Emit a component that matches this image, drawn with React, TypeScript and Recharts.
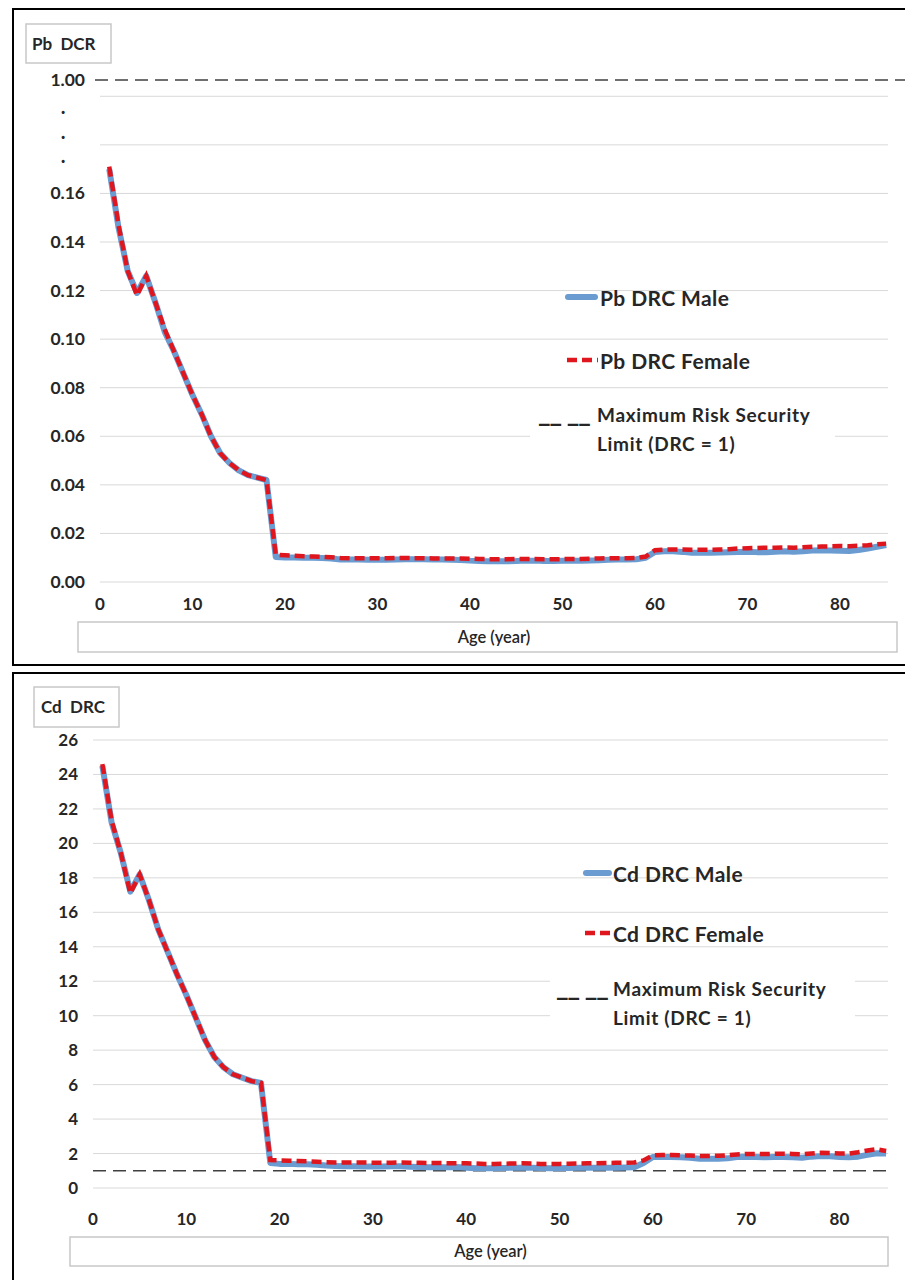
import { LineChart, Line, XAxis, YAxis, CartesianGrid, ReferenceLine, Legend } from "recharts";

// ages in years
const AGES = [
  1, 2, 3, 4, 5, 6, 7, 8, 9, 10, 11, 12, 13, 14, 15, 16, 17, 18, 19, 20,
  21, 22, 23, 24, 25, 26, 27, 28, 29, 30, 31, 32, 33, 34, 35, 36, 37, 38, 39, 40,
  41, 42, 43, 44, 45, 46, 47, 48, 49, 50, 51, 52, 53, 54, 55, 56, 57, 58, 59, 60,
  61, 62, 63, 64, 65, 66, 67, 68, 69, 70, 71, 72, 73, 74, 75, 76, 77, 78, 79, 80,
  81, 82, 83, 84, 85,
];

const PB_MALE = [
  0.170, 0.146, 0.128, 0.119, 0.126, 0.115, 0.103, 0.095, 0.086, 0.077,
  0.069, 0.060, 0.053, 0.049, 0.046, 0.044, 0.043, 0.042, 0.0103, 0.0101,
  0.0101, 0.0100, 0.0100, 0.0099, 0.0097, 0.0093, 0.0093, 0.0093, 0.0092, 0.0092,
  0.0092, 0.0093, 0.0094, 0.0094, 0.0094, 0.0093, 0.0093, 0.0092, 0.0091, 0.0088,
  0.0086, 0.0085, 0.0085, 0.0085, 0.0086, 0.0088, 0.0088, 0.0086, 0.0086, 0.0087,
  0.0087, 0.0088, 0.0089, 0.0090, 0.0092, 0.0093, 0.0093, 0.0094, 0.0100, 0.0124,
  0.0127, 0.0127, 0.0124, 0.0120, 0.0120, 0.0120, 0.0121, 0.0122, 0.0124, 0.0125,
  0.0123, 0.0122, 0.0125, 0.0127, 0.0125, 0.0127, 0.0130, 0.0131, 0.0130, 0.0129,
  0.0128, 0.0132, 0.0138, 0.0145, 0.0152,
];

const PB_FEMALE = [
  0.171, 0.147, 0.128, 0.118, 0.126, 0.115, 0.104, 0.095, 0.086, 0.077,
  0.069, 0.060, 0.053, 0.049, 0.046, 0.044, 0.043, 0.042, 0.0112, 0.0110,
  0.0108, 0.0106, 0.0105, 0.0104, 0.0102, 0.0099, 0.0098, 0.0098, 0.0098, 0.0098,
  0.0098, 0.0099, 0.0099, 0.0098, 0.0098, 0.0097, 0.0097, 0.0097, 0.0097, 0.0096,
  0.0095, 0.0094, 0.0094, 0.0094, 0.0095, 0.0095, 0.0095, 0.0094, 0.0094, 0.0094,
  0.0095, 0.0095, 0.0096, 0.0097, 0.0098, 0.0098, 0.0098, 0.0099, 0.0105, 0.0131,
  0.0133, 0.0134, 0.0134, 0.0133, 0.0133, 0.0133, 0.0134, 0.0135, 0.0138, 0.0139,
  0.0140, 0.0141, 0.0141, 0.0142, 0.0141, 0.0143, 0.0145, 0.0146, 0.0147, 0.0148,
  0.0147, 0.0149, 0.0151, 0.0155, 0.0158,
];

const CD_MALE = [
  24.5, 21.2, 19.4, 17.2, 18.2, 16.7, 15.0, 13.7, 12.4, 11.2,
  9.9, 8.6, 7.6, 7.0, 6.6, 6.4, 6.2, 6.1, 1.45, 1.40,
  1.40, 1.38, 1.38, 1.35, 1.30, 1.28, 1.26, 1.26, 1.25, 1.25,
  1.25, 1.26, 1.26, 1.24, 1.22, 1.20, 1.20, 1.20, 1.22, 1.18,
  1.15, 1.15, 1.15, 1.16, 1.18, 1.18, 1.18, 1.16, 1.15, 1.15,
  1.16, 1.17, 1.17, 1.18, 1.18, 1.18, 1.19, 1.20, 1.45, 1.80,
  1.80, 1.80, 1.78, 1.75, 1.70, 1.70, 1.70, 1.72, 1.80, 1.82,
  1.80, 1.78, 1.80, 1.80, 1.78, 1.76, 1.82, 1.85, 1.84, 1.80,
  1.78, 1.82, 1.92, 2.02, 2.00,
];

const CD_FEMALE = [
  24.6, 21.3, 19.4, 17.1, 18.2, 16.7, 15.0, 13.7, 12.4, 11.2,
  9.9, 8.6, 7.6, 7.0, 6.6, 6.4, 6.2, 6.1, 1.62, 1.60,
  1.58, 1.56, 1.55, 1.52, 1.50, 1.48, 1.48, 1.48, 1.48, 1.47,
  1.47, 1.47, 1.48, 1.47, 1.46, 1.45, 1.45, 1.44, 1.44, 1.43,
  1.42, 1.40, 1.40, 1.41, 1.42, 1.43, 1.42, 1.40, 1.40, 1.40,
  1.41, 1.42, 1.43, 1.44, 1.45, 1.46, 1.47, 1.48, 1.60, 1.90,
  1.92, 1.92, 1.90, 1.88, 1.86, 1.86, 1.87, 1.90, 1.95, 1.98,
  1.98, 1.97, 1.98, 1.99, 1.98, 1.96, 2.00, 2.04, 2.03, 2.00,
  2.00, 2.08, 2.18, 2.25, 2.15,
];

const X_TICKS = [0, 10, 20, 30, 40, 50, 60, 70, 80];
const PB_TICKS = [0, 0.02, 0.04, 0.06, 0.08, 0.1, 0.12, 0.14, 0.16];
const PB_GRID = [0, 0.02, 0.04, 0.06, 0.08, 0.1, 0.12, 0.14, 0.16, 0.18, 0.2];
// the Pb axis is broken above 0.20: three dots, then the DRC = 1 line
const PB_BREAK_DOTS = [0.175, 0.185, 0.195];
const PB_AXIS_BREAK = 0.2067;
const CD_TICKS = [0, 2, 4, 6, 8, 10, 12, 14, 16, 18, 20, 22, 24, 26];
const DRC_LIMIT = 1;

const pbData = AGES.map((age, i) => ({ age, male: PB_MALE[i], female: PB_FEMALE[i] }));
const cdData = AGES.map((age, i) => ({ age, male: CD_MALE[i], female: CD_FEMALE[i] }));

const BLUE = "#6A9BD1";
const RED = "#E0161E";
const LIMIT_GRAY = "#404040";
const GRID = "#D9D9D9";
const TEXT = "#262626";
const FONT = "Lato, 'Noto Sans', sans-serif";

const PbTick = (props: any) => {
  const { x, y, payload } = props;
  const v = payload.value;
  const common = { y, dy: 6, fontSize: 17.5, fontWeight: 700, fill: TEXT, fontFamily: FONT };
  if (v === PB_AXIS_BREAK)
    return <text x={x} textAnchor="end" {...common}>{DRC_LIMIT.toFixed(2)}</text>;
  if (PB_BREAK_DOTS.includes(v))
    return <text x={x - 22} textAnchor="middle" {...common} fontSize={20}>.</text>;
  return <text x={x} textAnchor="end" {...common}>{v.toFixed(2)}</text>;
};

const boxLabel = (text: string, dx: number, dy: number, w: number, h: number, tx: number | null, size: number, weight: number) =>
  (p: any) => {
    const vb = p.viewBox;
    const x = vb.x + dx;
    const y = vb.y + dy;
    return (
      <g>
        <rect x={x} y={y} width={w} height={h} fill="#fff" stroke="#C8C8C8" strokeWidth={1.5} />
        <text
          x={tx === null ? vb.x + vb.width / 2 : x + tx}
          y={y + h / 2}
          dy={size * 0.36}
          textAnchor={tx === null ? "middle" : "start"}
          fontSize={size}
          fontWeight={weight}
          fill={TEXT}
          fontFamily={FONT}
          style={{ whiteSpace: "pre" }}
        >
          {text}
        </text>
      </g>
    );
  };

type LegendGeom = {
  maleY: number;
  femaleY: number;
  iconLeft: number;
  iconWidth: number;
  textLeft: number;
  box: { left: number; top: number; width: number; height: number };
  markLeft: number;
  limitTextLeft: number;
  limitY: number[];
};

const legendContent = (g: LegendGeom) => (props: any) => {
  const items: any[] = props.payload ?? [];
  const row = { position: "absolute" as const, transform: "translateY(-50%)", lineHeight: 1, whiteSpace: "nowrap" as const };
  const big = { fontSize: 21, fontWeight: 700, letterSpacing: 0.4 };
  const small = { fontSize: 19, fontWeight: 700, letterSpacing: 0.7 };
  return (
    <div style={{ position: "relative", width: "100%", height: "100%", fontFamily: FONT, color: TEXT }}>
      {items.map((it) => {
        const isMale = it.dataKey === "male";
        const y = isMale ? g.maleY : g.femaleY;
        return (
          <div key={it.value}>
            <svg style={{ position: "absolute", left: g.iconLeft, top: y - 4 }} width={g.iconWidth} height={8}>
              {isMale ? (
                <line x1={3} x2={g.iconWidth - 3} y1={4} y2={4} stroke={BLUE} strokeWidth={6} strokeLinecap="round" />
              ) : (
                <line x1={2} x2={g.iconWidth} y1={4} y2={4} stroke={RED} strokeWidth={4.5} strokeDasharray="10 5" />
              )}
            </svg>
            <div style={{ ...row, ...big, left: g.textLeft, top: y }}>{it.value}</div>
          </div>
        );
      })}
      <div style={{ position: "absolute", background: "#fff", ...g.box }} />
      <div style={{ ...row, left: g.markLeft, top: g.limitY[0] - 3, fontSize: 27, fontWeight: 700, letterSpacing: -1 }}>__ __</div>
      <div style={{ ...row, ...small, left: g.limitTextLeft, top: g.limitY[0] }}>Maximum Risk Security</div>
      <div style={{ ...row, ...small, left: g.limitTextLeft, top: g.limitY[1] }}>Limit (DRC = {DRC_LIMIT})</div>
    </div>
  );
};

const panel = (top: number, height: number) => ({
  position: "absolute" as const,
  left: 4,
  top,
  width: 899,
  height,
  border: "2px solid #000",
  boxSizing: "border-box" as const,
  background: "#fff",
});

export default function App() {
  const xTick = { fontSize: 17, fontWeight: 700, fill: TEXT, fontFamily: FONT };
  const yTick = { fontSize: 17, fontWeight: 700, fill: TEXT, fontFamily: FONT };
  return (
    <div style={{ position: "relative", width: 905, height: 1272, overflow: "hidden", fontFamily: FONT }}>
      <div style={panel(0, 658)} />
      <div style={panel(664, 640)} />

      <div style={{ position: "absolute", left: 0, top: 0 }}>
        <LineChart width={905} height={660} data={pbData} margin={{ top: 64, right: 25, bottom: 56, left: 32 }}>
          <CartesianGrid vertical={false} stroke={GRID} horizontalValues={PB_GRID} />
          <XAxis
            dataKey="age"
            type="number"
            domain={[0, 85.2]}
            ticks={X_TICKS}
            interval={0}
            height={30}
            axisLine={false}
            tickLine={false}
            tickMargin={10}
            tick={xTick}
            label={boxLabel("Age (year)", -22, 40, 819, 30, null, 16.5, 600)}
          />
          <YAxis
            type="number"
            domain={[0, 0.21]}
            ticks={[...PB_TICKS, ...PB_BREAK_DOTS, PB_AXIS_BREAK]}
            interval={0}
            width={60}
            axisLine={false}
            tickLine={false}
            tickMargin={9}
            tick={(p: any) => <PbTick {...p} />}
            label={boxLabel("Pb  DCR", -14, -48, 85, 39, 6, 17, 700)}
          />
          <ReferenceLine
            y={PB_AXIS_BREAK}
            stroke={LIMIT_GRAY}
            strokeWidth={1.6}
            strokeDasharray="13 7"
            shape={(p: any) => (
              <line x1={p.x1 - 5} x2={p.x2 + 25} y1={p.y1} y2={p.y2} stroke={LIMIT_GRAY} strokeWidth={1.6} strokeDasharray="13 7" />
            )}
          />
          <Line type="linear" dataKey="male" name="Pb DRC Male" stroke={BLUE} strokeWidth={6} strokeLinejoin="round" dot={false} isAnimationActive={false} />
          <Line type="linear" dataKey="female" name="Pb DRC Female" stroke={RED} strokeWidth={4.5} strokeDasharray="10 5" dot={false} isAnimationActive={false} />
          <Legend
            layout="vertical"
            align="center"
            verticalAlign="middle"
            wrapperStyle={{ left: 520, top: 270, width: 340, height: 190 }}
            content={legendContent({
              maleY: 19,
              femaleY: 82,
              iconLeft: 37,
              iconWidth: 33,
              textLeft: 72,
              box: { left: 2, top: 122, width: 305, height: 58 },
              markLeft: 10,
              limitTextLeft: 69,
              limitY: [136, 165],
            })}
          />
        </LineChart>
      </div>

      <div style={{ position: "absolute", left: 0, top: 668 }}>
        <LineChart width={905} height={604} data={cdData} margin={{ top: 64, right: 25, bottom: 62, left: 30 }}>
          <CartesianGrid vertical={false} stroke={GRID} />
          <XAxis
            dataKey="age"
            type="number"
            domain={[0, 85.2]}
            ticks={X_TICKS}
            interval={0}
            height={30}
            axisLine={false}
            tickLine={false}
            tickMargin={19}
            tick={xTick}
            label={boxLabel("Age (year)", -23, 49, 818, 29, null, 16.5, 600)}
          />
          <YAxis
            type="number"
            domain={[0, 26]}
            ticks={CD_TICKS}
            interval={0}
            width={55}
            axisLine={false}
            tickLine={false}
            tickMargin={9}
            tick={yTick}
            label={boxLabel("Cd  DRC", -4, -53, 85, 40, 7, 17, 700)}
          />
          <ReferenceLine y={DRC_LIMIT} stroke={LIMIT_GRAY} strokeWidth={1.6} strokeDasharray="13 7" />
          <Line type="linear" dataKey="male" name="Cd DRC Male" stroke={BLUE} strokeWidth={6} strokeLinejoin="round" dot={false} isAnimationActive={false} />
          <Line type="linear" dataKey="female" name="Cd DRC Female" stroke={RED} strokeWidth={4.5} strokeDasharray="10 5" dot={false} isAnimationActive={false} />
          <Legend
            layout="vertical"
            align="center"
            verticalAlign="middle"
            wrapperStyle={{ left: 540, top: 180, width: 340, height: 190 }}
            content={legendContent({
              maleY: 17,
              femaleY: 77,
              iconLeft: 35,
              iconWidth: 29,
              textLeft: 65,
              box: { left: 2, top: 112, width: 305, height: 62 },
              markLeft: 8,
              limitTextLeft: 65,
              limitY: [132, 161],
            })}
          />
        </LineChart>
      </div>
    </div>
  );
}
